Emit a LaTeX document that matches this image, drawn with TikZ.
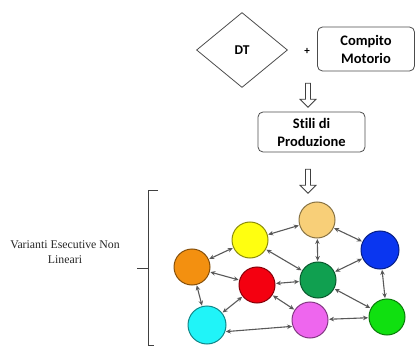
\documentclass[tikz,border=0pt]{standalone}
\usepackage{fontspec}
\setmainfont{Carlito}[Ligatures={NoCommon}]
\newfontfamily\serifalt{Liberation Serif}
\usetikzlibrary{shapes.geometric,shapes.arrows,arrows.meta}
\definecolor{ctan}{HTML}{F8CF78}
\definecolor{cyel}{HTML}{FFFF10}
\definecolor{cblue}{HTML}{0A36F0}
\definecolor{corange}{HTML}{F39010}
\definecolor{cred}{HTML}{F40010}
\definecolor{cdgreen}{HTML}{10A050}
\definecolor{ccyan}{HTML}{20F4F8}
\definecolor{cmag}{HTML}{EE66EE}
\definecolor{cgreen}{HTML}{10E010}
\tikzset{
  boxnode/.style={draw=black!70, line width=0.8pt, rounded corners=5pt, align=center, font=\fontsize{14.5}{18}\selectfont\bfseries, inner sep=0pt},
  ball/.style={circle, draw=#1!55!black, fill=#1, line width=1pt, minimum size=36pt, inner sep=0pt},
  hollow/.style={single arrow, draw=black!75, fill=white, line width=0.8pt, rotate=-90, minimum height=24pt, minimum width=16pt, single arrow head extend=4pt, inner sep=1.5pt},
  link/.style={draw=black!65, line width=1.1pt, {Stealth[length=5pt,width=4.5pt,fill=black!85]}-{Stealth[length=5pt,width=4.5pt,fill=black!85]}, shorten <=0.5pt, shorten >=0.5pt}
}
\begin{document}
\begin{tikzpicture}[x=1pt,y=-1pt]
\useasboundingbox (0,0) rectangle (417,347);
% top flow
\node[diamond, draw=black!70, line width=0.8pt, minimum width=91pt, minimum height=75pt, inner sep=0pt, font=\fontsize{13.5}{16}\selectfont\bfseries] (dt) at (242,50) {DT};
\node[font=\fontsize{11}{13}\selectfont\bfseries] (plus) at (307,51) {+};
\node[boxnode, minimum width=97pt, minimum height=44pt] (cm) at (366,49) {Compito\\Motorio};
\node[hollow] (a1) at (308,94) {};
\node[boxnode, minimum width=107pt, minimum height=40pt] (sp) at (311.5,132) {Stili di\\Produzione};
\node[hollow] (a2) at (308,180) {};
% bracket
\draw[black!75, line width=0.9pt] (158,190) -- (148,190) -- (148,345) -- (154,345);
\draw[black!75, line width=0.9pt] (137,268) -- (148,268);
\node[font=\fontsize{11.8}{15}\selectfont\serifalt, align=center, text=black!85] (lab) at (65,252) {Varianti Esecutive Non\\Lineari};
% balls
\node[ball=ctan] (tan) at (317,220) {};
\node[ball=cyel] (yel) at (250,240) {};
\node[ball=cblue, minimum size=38pt] (blue) at (380,250) {};
\node[ball=corange] (ora) at (192,267) {};
\node[ball=cred] (red) at (257,285) {};
\node[ball=cdgreen] (dg) at (318,280) {};
\node[ball=ccyan, minimum size=38pt] (cya) at (207,325) {};
\node[ball=cmag] (mag) at (310,320) {};
\node[ball=cgreen] (grn) at (387,317) {};
% links
\draw[link] (yel) -- (tan);
\draw[link] (ora) -- (yel);
\draw[link] (tan) -- (blue);
\draw[link] (yel) -- (dg);
\draw[link] (tan) -- (dg);
\draw[link] (ora) -- (red);
\draw[link] (red) -- (dg);
\draw[link] (dg) -- (blue);
\draw[link] (blue) -- (grn);
\draw[link] (ora) -- (cya);
\draw[link] (cya) -- (red);
\draw[link] (red) -- (mag);
\draw[link] (mag) -- (grn);
\draw[link] (dg) -- (grn);
\draw[link] (cya.-20) -- (mag.-160);
\end{tikzpicture}
\end{document}
